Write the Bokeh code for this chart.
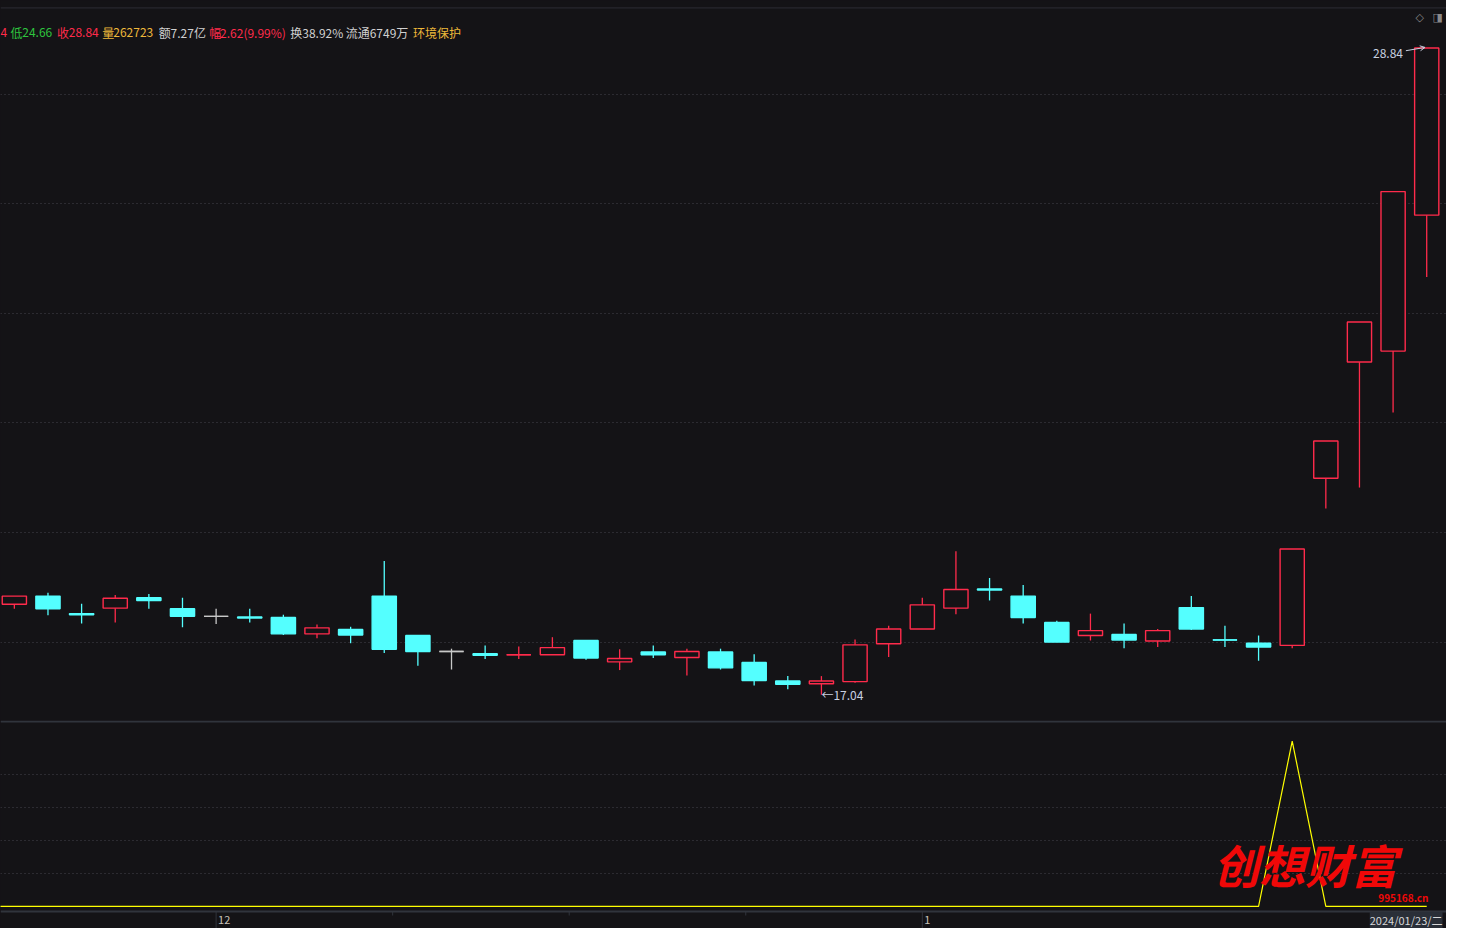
import numpy as np
import datetime as dt
from bokeh.plotting import figure
from bokeh.models import (ColumnDataSource, Label, Span, Grid, FixedTicker, Range1d,
                          Arrow, OpenHead)
from bokeh.layouts import column
from bokeh.embed import file_html
from bokeh.resources import INLINE
from bokeh.core.properties import value

# ---------------- data ----------------
dates = ["2023-11-23", "2023-11-24", "2023-11-27", "2023-11-28", "2023-11-29", "2023-11-30",
         "2023-12-01", "2023-12-04", "2023-12-05", "2023-12-06", "2023-12-07", "2023-12-08",
         "2023-12-11", "2023-12-12", "2023-12-13", "2023-12-14", "2023-12-15", "2023-12-18",
         "2023-12-19", "2023-12-20", "2023-12-21", "2023-12-22", "2023-12-25", "2023-12-26",
         "2023-12-27", "2023-12-28", "2023-12-29", "2024-01-02", "2024-01-03", "2024-01-04",
         "2024-01-05", "2024-01-08", "2024-01-09", "2024-01-10", "2024-01-11", "2024-01-12",
         "2024-01-15", "2024-01-16", "2024-01-17", "2024-01-18", "2024-01-19", "2024-01-22",
         "2024-01-23"]
opens = [18.69, 18.84, 18.52, 18.62, 18.81, 18.61, 18.47, 18.46, 18.45, 18.15,
         18.23, 18.84, 18.12, 17.83, 17.79, 17.77, 17.77, 18.03, 17.64, 17.82,
         17.72, 17.82, 17.63, 17.29, 17.24, 17.28, 17.97, 18.24, 18.62, 18.97,
         18.84, 18.36, 18.12, 18.14, 18.02, 18.63, 18.04, 17.98, 17.94, 20.99,
         23.11, 23.31, 25.79]
highs = [18.84, 18.90, 18.70, 18.86, 18.88, 18.81, 18.61, 18.61, 18.50, 18.32,
         18.28, 19.48, 18.12, 17.88, 17.94, 17.92, 18.09, 18.03, 17.87, 17.94,
         17.88, 17.88, 17.78, 17.38, 17.38, 18.05, 18.30, 18.81, 19.66, 19.17,
         19.04, 18.39, 18.52, 18.34, 18.24, 18.84, 18.30, 18.12, 19.70, 21.67,
         23.84, 26.22, 28.84]
lows = [18.61, 18.49, 18.34, 18.36, 18.61, 18.27, 18.33, 18.36, 18.13, 18.07,
        17.98, 17.80, 17.57, 17.50, 17.69, 17.69, 17.77, 17.68, 17.49, 17.71,
        17.39, 17.50, 17.21, 17.14, 17.04, 17.26, 17.73, 18.24, 18.51, 18.76,
        18.34, 18.00, 18.03, 17.89, 17.91, 18.22, 17.91, 17.66, 17.89, 20.44,
        20.82, 22.19, 24.66]
closes = [18.84, 18.61, 18.50, 18.80, 18.76, 18.47, 18.47, 18.44, 18.15, 18.26,
          18.13, 17.87, 17.83, 17.83, 17.76, 17.77, 17.90, 17.71, 17.70, 17.77,
          17.83, 17.53, 17.30, 17.23, 17.29, 17.95, 18.24, 18.68, 18.96, 18.95,
          18.45, 18.00, 18.21, 18.04, 18.21, 18.24, 18.04, 17.91, 19.70, 21.67,
          23.84, 26.22, 28.84]
# indicator (first value belongs to 2023-11-22, just left of the view)
signal = [0, 0, 0, 0, 0, 0, 0, 0, 0, 0, 0, 0, 0, 0, 0, 0, 0, 0, 0, 0, 0, 0,
          0, 0, 0, 0, 0, 0, 0, 0, 0, 0, 0, 0, 0, 0, 0, 0, 0, 100, 0, 0, 0, 0]
price_grid = [18, 20, 22, 24, 26, 28]
signal_grid = [20, 40, 60, 80]

header_texts = ["4", "低", "24.66", "收", "28.84", "量", "262723", "额", "7.27亿",
                "幅", "2.62(9.99%)", "换38.92%", "流通6749万", "环境保护"]

# ---------------- styling ----------------
BG = "#141316"
RED = "#ff2b4b"
CYAN = "#54ffff"
GRAY = "#c8c8c8"
GREEN = "#2ec43e"
GOLD = "#eeb83a"
TXT = "#d0d0d0"
GRID = "#44444c"
SEP = "#30343c"
FONT = "Noto Sans CJK SC"

header_colors = [RED, GREEN, GREEN, RED, RED, GOLD, GOLD, TXT, TXT, RED, RED, TXT, TXT, GOLD]
header_px = [0, 10, 22, 57, 69, 103, 114, 160, 172, 211, 222, 293, 349, 417]

W = 1446
H1, H2 = 720, 208

# calibration of the reference layout (pixel -> data)
def fx(px):
    return (px - 14) / 34.0

def fy(py):
    return 28.84 - (py - 48) / 55.42

# lower figure: local pixel (from its top) -> indicator value
G_TOP = 112.5
G_K = 1.653
def gy(px):
    return G_TOP - px / G_K

n = len(dates)
x = np.arange(n)
o = np.array(opens); h = np.array(highs); l = np.array(lows); c = np.array(closes)

colors, fills = [], []
for i in range(n):
    if c[i] > o[i]:
        col, fill = RED, BG
    elif c[i] < o[i]:
        col, fill = CYAN, CYAN
    else:
        if i > 0 and c[i] > c[i - 1]:
            col = RED
        elif i > 0 and c[i] < c[i - 1]:
            col = CYAN
        else:
            col = GRAY
        fill = col
    colors.append(col)
    fills.append(fill)

src = ColumnDataSource(dict(x=x, o=o, h=h, l=l, c=c,
                            top=np.maximum(o, c), bottom=np.minimum(o, c),
                            color=colors, fill=fills))

x_range = Range1d(fx(0), fx(1462))

# ---------------- price panel ----------------
p = figure(width=W, height=H1, x_range=x_range, y_range=Range1d(fy(728), fy(0)),
           x_axis_type=None, y_axis_type=None, toolbar_location=None,
           output_backend="svg", background_fill_color=BG, border_fill_color=BG,
           min_border=0, outline_line_color=None)
p.add_layout(Grid(dimension=1, ticker=FixedTicker(ticks=price_grid),
                  grid_line_color=GRID, grid_line_dash="1 3", grid_line_width=1))

p.segment(x0="x", y0="l", x1="x", y1="h", line_color="color", line_width=1.3, source=src)
p.vbar(x="x", top="top", bottom="bottom", width=0.72, fill_color="fill",
       line_color="color", line_width=1.4, source=src)
doji = o == c
p.segment(x0=x[doji] - 0.36, y0=c[doji], x1=x[doji] + 0.36, y1=c[doji],
          line_color=[colors[i] for i in np.where(doji)[0]], line_width=1.4)

# toolbar strip line at the very top
p.add_layout(Span(location=fy(7.5), dimension="width", line_color="#2c2c34", line_width=1))

# header
for t, col, px in zip(header_texts, header_colors, header_px):
    p.add_layout(Label(x=fx(px), y=fy(32), text=t, text_color=col, text_font=FONT,
                       text_font_size="12px", text_baseline="middle", text_align="left"))

# corner icons
p.add_layout(Label(x=fx(1435), y=fy(17), text="◇", text_color="#8a8a8a",
                   text_font="DejaVu Sans", text_font_size="11px",
                   text_baseline="middle", text_align="center"))
p.add_layout(Label(x=fx(1453), y=fy(17), text="◨", text_color="#8a8a8a",
                   text_font="DejaVu Sans", text_font_size="11px",
                   text_baseline="middle", text_align="center"))

# max / min markers
imax = int(np.argmax(h)); imin = int(np.argmin(l))
p.add_layout(Label(x=imax + fx(1418) - fx(1442), y=fy(54), text=f"{h[imax]:.2f}",
                   text_color="#c8d0e0", text_font=FONT, text_font_size="12px",
                   text_baseline="middle", text_align="right"))
p.add_layout(Arrow(end=OpenHead(size=5, line_color="#c8d0e0", line_width=1),
                   x_start=imax - 0.62, y_start=h[imax] - 0.05,
                   x_end=imax - 0.05, y_end=h[imax] + 0.01,
                   line_color="#c8d0e0", line_width=1))
p.add_layout(Label(x=imin, y=l[imin], text=f"←{l[imin]:.2f}",
                   text_color="#c8d0e0", text_font=FONT, text_font_size="12px",
                   text_baseline="middle", text_align="left"))

# ---------------- indicator panel + time strip ----------------
q = figure(width=W, height=H2, x_range=x_range, y_range=Range1d(gy(H2), gy(0)),
           x_axis_type=None, y_axis_type=None, toolbar_location=None,
           output_backend="svg", background_fill_color=BG, border_fill_color=BG,
           min_border=0, outline_line_color=None)
q.add_layout(Grid(dimension=1, ticker=FixedTicker(ticks=signal_grid),
                  grid_line_color=GRID, grid_line_dash="1 3", grid_line_width=1))
q.add_layout(Span(location=gy(1), dimension="width", line_color=SEP, line_width=2))
q.add_layout(Span(location=gy(191), dimension="width", line_color=SEP, line_width=2))

sx = np.arange(-1, n)
q.line(sx, signal, line_color="#ffff00", line_width=1.2)

# month ticks derived from dates
d = [dt.date.fromisoformat(s) for s in dates]
month_idx = [i for i in range(1, n) if d[i].month != d[i - 1].month]
month_lab = [str(d[i].month) for i in month_idx]
q.segment(x0=month_idx, y0=[gy(191)] * len(month_idx), x1=month_idx,
          y1=[gy(H2)] * len(month_idx), line_color=SEP, line_width=1)
minor = []
for a, b in zip(month_idx[:-1], month_idx[1:]):
    minor += [a + k * (b - a) / 4 for k in (1, 2, 3)]
q.segment(x0=minor, y0=[gy(191)] * len(minor), x1=minor, y1=[gy(195)] * len(minor),
          line_color=SEP, line_width=1)
q.text(x=month_idx, y=[gy(199.5)] * len(month_idx), text=month_lab, x_offset=2,
       text_color="#c8c0b8", text_font=value(FONT), text_font_size="11px",
       text_baseline="middle", text_align="left")

wd = "一二三四五六日"[d[-1].weekday()]
q.add_layout(Label(x=fx(1458), y=gy(199.5), text=d[-1].strftime("%Y/%m/%d") + "/" + wd,
                   text_color="#d8d8d8", text_font=FONT, text_font_size="11px",
                   text_baseline="middle", text_align="right",
                   background_fill_color="#2a2f38"))

# watermark
q.add_layout(Label(x=fx(1226), y=gy(143), text="创想财富", text_color="#f00808",
                   text_font=FONT, text_font_size="46px", text_font_style="bold italic",
                   text_baseline="middle", text_align="left"))
q.add_layout(Label(x=fx(1393), y=gy(177), text="995168.cn", text_color="#f00808",
                   text_font=FONT, text_font_size="10px", text_font_style="bold",
                   text_baseline="middle", text_align="left"))

layout = column(p, q, spacing=0, styles={"background-color": BG})
open("out.html", "w").write(file_html(layout, INLINE))
